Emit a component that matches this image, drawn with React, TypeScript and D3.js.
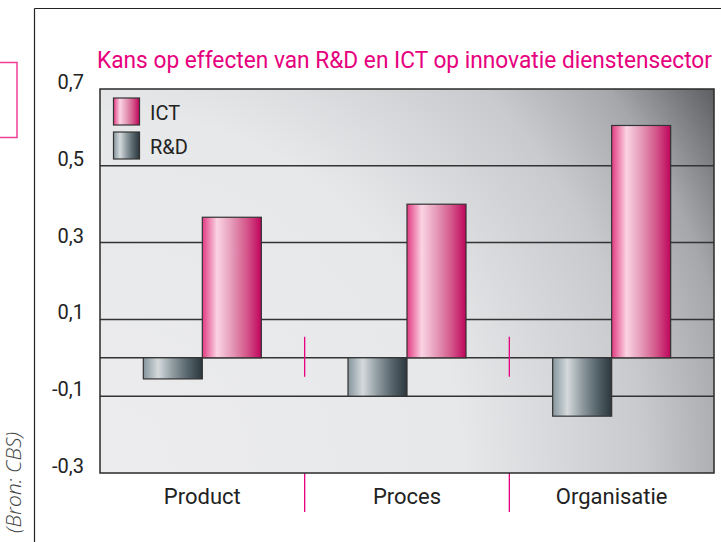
import * as React from 'react';
import * as d3 from 'd3';

const categories = ['Product', 'Proces', 'Organisatie'];
const seriesNames = ['R&D', 'ICT'];
const rdValues = [-0.055, -0.1, -0.152];
const ictValues = [0.366, 0.4, 0.605];
const yTicks = [0.7, 0.5, 0.3, 0.1, -0.1, -0.3];
const gridValues = [0.5, 0.3, 0.1, 0, -0.1];

const title = 'Kans op effecten van R&D en ICT op innovatie dienstensector';
const source = '(Bron: CBS)';

const W = 721;
const H = 542;
const plot = { left: 100, right: 714, top: 89, bottom: 473 };
const font = 'Roboto, "Open Sans", sans-serif';

export default function App() {
  const y = d3.scaleLinear().domain([-0.3, 0.7]).range([plot.bottom, plot.top]);
  const x0 = d3.scaleBand().domain(categories).range([plot.left, plot.right]);
  const x1 = d3.scaleBand().domain(seriesNames).range([0, 118]);
  const fmt = (v: number) => d3.format('.1f')(v).replace('.', ',').replace('−', '-');

  const series = [
    { name: 'R&D', values: rdValues, fill: 'url(#gradRD)' },
    { name: 'ICT', values: ictValues, fill: 'url(#gradICT)' },
  ];

  const separators = categories.slice(1).map((c) => x0(c) as number);

  return (
    <svg width={W} height={H} style={{ position: 'absolute', left: 0, top: 0, display: 'block' }}>
      <defs>
        <radialGradient id="bg" gradientUnits="userSpaceOnUse" cx={plot.left} cy={plot.bottom} r={724}>
          <stop offset="0" stopColor="#ececee" />
          <stop offset="0.5" stopColor="#e7e8ea" />
          <stop offset="0.75" stopColor="#c9cacd" />
          <stop offset="0.88" stopColor="#a6a7ab" />
          <stop offset="1" stopColor="#5e5f63" />
        </radialGradient>
        <linearGradient id="gradICT" x1="0" x2="1" y1="0" y2="0">
          <stop offset="0" stopColor="#e33a82" />
          <stop offset="0.25" stopColor="#fad4e3" />
          <stop offset="0.5" stopColor="#e59ab8" />
          <stop offset="0.75" stopColor="#d4588b" />
          <stop offset="1" stopColor="#bf045c" />
        </linearGradient>
        <linearGradient id="gradRD" x1="0" x2="1" y1="0" y2="0">
          <stop offset="0" stopColor="#85959d" />
          <stop offset="0.25" stopColor="#d5dadc" />
          <stop offset="0.5" stopColor="#8f9ba1" />
          <stop offset="0.75" stopColor="#56646b" />
          <stop offset="1" stopColor="#2b373d" />
        </linearGradient>
      </defs>

      <rect x={0} y={0} width={W} height={H} fill="#ffffff" />

      {/* outer frame */}
      <line x1={34.5} x2={34.5} y1={8.5} y2={H} stroke="#222" strokeWidth={1.2} />
      <line x1={34.5} x2={W} y1={8.5} y2={8.5} stroke="#222" strokeWidth={1.2} />
      <rect x={-10} y={62.5} width={27} height={75} fill="none" stroke="#ef3f97" strokeWidth={1.5} />
      <text
        transform={`translate(21,432) rotate(-90)`}
        textAnchor="end"
        fontFamily='"Open Sans", sans-serif'
        fontStyle="italic"
        fontWeight={300}
        fontSize={21}
        fill="#444"
      >
        {source}
      </text>

      <text
        x={97}
        y={68}
        fontFamily={font}
        fontSize={23}
        fill="#e6007e"
        textLength={615}
        lengthAdjust="spacingAndGlyphs"
      >
        {title}
      </text>

      {/* plot background */}
      <rect
        x={plot.left}
        y={plot.top}
        width={plot.right - plot.left}
        height={plot.bottom - plot.top}
        fill="url(#bg)"
      />

      {gridValues.map((v) => (
        <line
          key={v}
          x1={plot.left}
          x2={plot.right}
          y1={y(v)}
          y2={y(v)}
          stroke="#333"
          strokeWidth={1.5}
        />
      ))}

      {/* pink separators */}
      {separators.map((sx) => (
        <g key={sx} stroke="#e6007e" strokeWidth={1.3}>
          <line x1={sx} x2={sx} y1={y(0) - 21} y2={y(0) + 19} />
          <line x1={sx} x2={sx} y1={plot.bottom} y2={plot.bottom + 39} />
        </g>
      ))}

      {series.map((s) =>
        s.values.map((v, i) => {
          const cx = (x0(categories[i]) as number) + x0.bandwidth() / 2 - 59;
          const bx = cx + (x1(s.name) as number);
          return (
            <rect
              key={s.name + i}
              x={bx}
              y={Math.min(y(v), y(0))}
              width={x1.bandwidth()}
              height={Math.abs(y(v) - y(0))}
              fill={s.fill}
              stroke="#333"
              strokeWidth={1.2}
            />
          );
        })
      )}

      <rect
        x={plot.left}
        y={plot.top}
        width={plot.right - plot.left}
        height={plot.bottom - plot.top}
        fill="none"
        stroke="#2a2a2a"
        strokeWidth={1.5}
      />

      {/* legend */}
      {[
        { name: 'ICT', fill: 'url(#gradICT)', top: 98 },
        { name: 'R&D', fill: 'url(#gradRD)', top: 132 },
      ].map((l) => (
        <g key={l.name}>
          <rect x={113.5} y={l.top} width={26} height={27} fill={l.fill} stroke="#333" strokeWidth={1.2} />
          <text x={150} y={l.top + 22} fontFamily={font} fontSize={20} fill="#222">
            {l.name}
          </text>
        </g>
      ))}

      {/* y tick labels */}
      {yTicks.map((t) => (
        <text key={t} x={84} y={y(t)} textAnchor="end" fontFamily={font} fontSize={20} fill="#222">
          {fmt(t)}
        </text>
      ))}

      {/* category labels */}
      {categories.map((c) => (
        <text
          key={c}
          x={(x0(c) as number) + x0.bandwidth() / 2}
          y={504}
          textAnchor="middle"
          fontFamily={font}
          fontSize={22}
          fill="#222"
        >
          {c}
        </text>
      ))}
    </svg>
  );
}
